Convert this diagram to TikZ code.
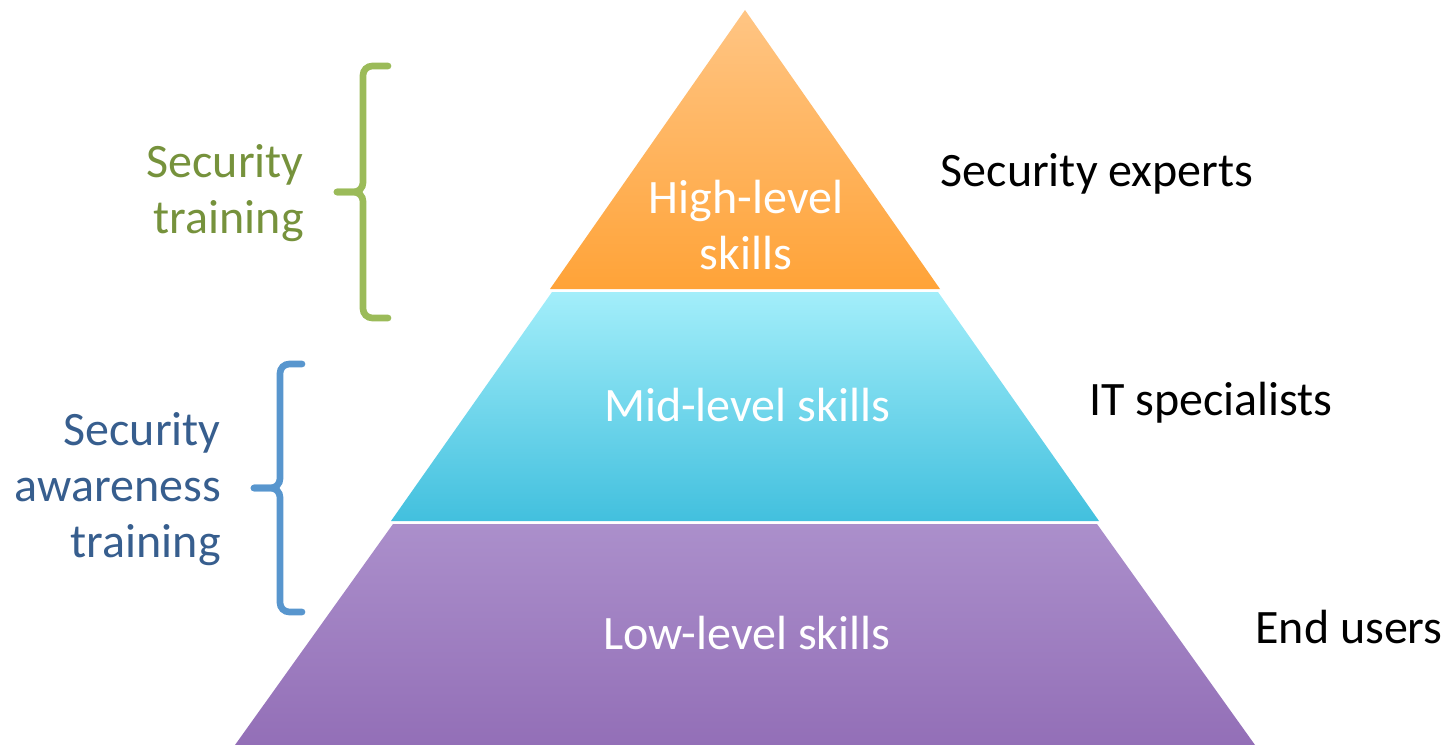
\documentclass[tikz,border=0pt]{standalone}
\usepackage{fontspec}
\setmainfont{Carlito}
\usetikzlibrary{positioning}

\definecolor{topA}{RGB}{255,197,132}
\definecolor{topB}{RGB}{255,163,56}
\definecolor{midA}{RGB}{163,238,250}
\definecolor{midB}{RGB}{66,192,222}
\definecolor{lowA}{RGB}{171,143,203}
\definecolor{lowB}{RGB}{147,111,183}
\definecolor{trainGreen}{RGB}{118,146,60}
\definecolor{braceGreen}{RGB}{155,187,89}
\definecolor{awareBlue}{RGB}{55,94,142}
\definecolor{braceBlue}{RGB}{88,150,206}

\tikzset{
  lbl/.style={font=\fontsize{36}{42}\selectfont, inner sep=0pt},
  inlbl/.style={lbl, text=white, align=center},
  brc/.style={line width=5pt, line cap=round, rounded corners=7pt},
}

\begin{document}
\begin{tikzpicture}[x=0.75pt,y=0.75pt,yscale=-1]
\useasboundingbox (0,0) rectangle (1451,745);

%Shape: top layer
\shade[top color=topA, bottom color=topB] (745,10) -- (940,289) -- (550,289) -- cycle;
%Shape: middle layer
\shade[top color=midA, bottom color=midB] (552,292) -- (938,292) -- (1099,521) -- (391,521) -- cycle;
%Shape: bottom layer
\shade[top color=lowA, bottom color=lowB] (393,524) -- (1097,524) -- (1255,745) -- (235,745) -- cycle;

% Text Node
\node[inlbl] (high) at (746,225) {High-level\\skills};
% Text Node
\node[inlbl] (mid) at (747,405) {Mid-level skills};
% Text Node
\node[inlbl] (low) at (747,633) {Low-level skills};

% Text Node
\node[lbl] (experts) at (1097,174) {Security experts};
% Text Node
\node[lbl] (itspec) at (1211,403) {IT specialists};
% Text Node
\node[lbl] (users) at (1349,627) {End users};

%Brace: security training
\coordinate (gtop) at (388,66);
\coordinate (gbot) at (388,318);
\coordinate (gtip) at (337,192);
\draw[brc, braceGreen] (gtop) -- (363,66) -- (363,192) -- (gtip);
\draw[brc, braceGreen] (gbot) -- (363,318) -- (363,192) -- (gtip);
% Text Node
\node[lbl, text=trainGreen, align=right, anchor=east] (train) at (304,193) {Security\\training};

%Brace: security awareness training
\coordinate (btop) at (302,364);
\coordinate (bbot) at (302,612);
\coordinate (btip) at (254,488);
\draw[brc, braceBlue] (btop) -- (280,364) -- (280,488) -- (btip);
\draw[brc, braceBlue] (bbot) -- (280,612) -- (280,488) -- (btip);
% Text Node
\node[lbl, text=awareBlue, align=right, anchor=east] (aware) at (221,489) {Security\\awareness\\training};

\end{tikzpicture}
\end{document}
